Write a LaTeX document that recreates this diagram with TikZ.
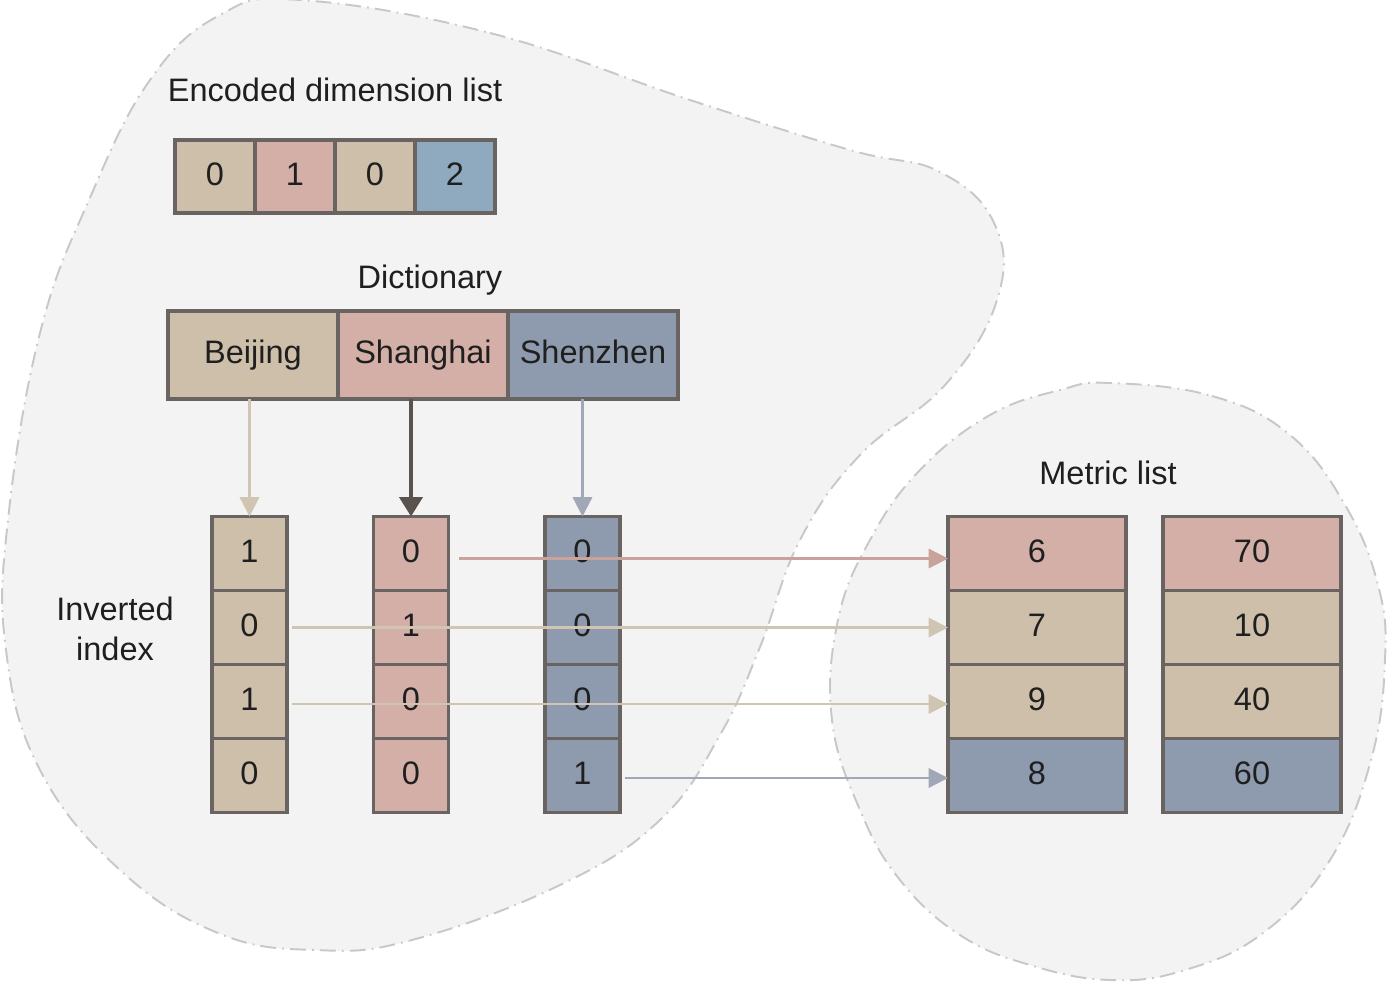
\documentclass[tikz,border=0pt]{standalone}
\usepackage{fontspec}
\setmainfont{Liberation Sans}
\usetikzlibrary{positioning,arrows.meta}

\definecolor{tanc}{HTML}{CEBFAB}
\definecolor{pinkc}{HTML}{D3AFA8}
\definecolor{slatec}{HTML}{8E9BAE}
\definecolor{bluec}{HTML}{8FAABF}
\definecolor{edgec}{HTML}{696461}
\definecolor{blobfill}{HTML}{F3F3F3}
\definecolor{blobline}{HTML}{C8C8C8}
\definecolor{tanline}{HTML}{CFC5B2}
\definecolor{pinkline}{HTML}{C9A29A}
\definecolor{slateline}{HTML}{A0A8B7}
\definecolor{darkline}{HTML}{5A524D}

\begin{document}
\begin{tikzpicture}[x=0.2mm,y=-0.2mm,node distance=0pt,
    every node/.style={font=\fontsize{18.5}{23}\selectfont,text=black!88},
    cell/.style={draw=edgec,line width=2pt,outer sep=0pt,inner sep=0pt,
      text height=13.5pt,text depth=3.5pt},
    enc/.style={cell,minimum width=16mm,minimum height=14.6mm},
    dict/.style={cell,minimum width=34mm,minimum height=17.6mm},
    inv/.style={cell,minimum width=15mm,minimum height=14.8mm},
    met/.style={cell,minimum width=35.6mm,minimum height=14.8mm},
    blob/.style={fill=blobfill,draw=blobline,line width=1.1pt,
      dash pattern=on 9pt off 3.5pt on 1pt off 3.5pt},
    link/.style={-{Triangle[length=11pt,width=11pt]},line width=1.3pt}]
  \useasboundingbox[fill=white] (0,0) rectangle (1387,994);

  % background shapes
  \draw[blob] plot[smooth cycle,tension=0.7] coordinates {
    (300,0) (490,33) (690,100) (850,150) (940,172) (995,225) (997,300)
    (945,385) (860,455) (800,540) (760,647) (720,735) (660,820) (560,885)
    (412,940) (315,950) (218,933) (120,870) (40,770) (6,650) (8,520)
    (40,333) (89,200) (150,80) (220,15)};
  \draw[blob] plot[smooth cycle,tension=0.7] coordinates {
    (1110,383) (1212,396) (1290,435) (1345,505) (1378,585) (1385,660)
    (1371,760) (1330,860) (1263,933) (1185,970) (1110,980) (1030,965)
    (960,935) (900,880) (860,810) (832,720) (838,620) (870,540) (920,470)
    (990,415) (1060,390)};

  % encoded dimension list
  \node (enctitle) at (335,90) {Encoded dimension list};
  \node[enc,fill=tanc] (e1) at (215,176.5) {0};
  \node[enc,fill=pinkc,right=of e1] (e2) {1};
  \node[enc,fill=tanc,right=of e2] (e3) {0};
  \node[enc,fill=bluec,right=of e3] (e4) {2};

  % dictionary
  \node (dicttitle) at (430,280) {Dictionary};
  \node[dict,fill=tanc] (bj) at (253,355) {Beijing};
  \node[dict,fill=pinkc,right=of bj] (sh) {Shanghai};
  \node[dict,fill=slatec,right=of sh] (sz) {Shenzhen};

  % inverted index
  \node[align=center] (invtitle) at (115,629) {Inverted\\index};
  \node[inv,fill=tanc] (bj1) at (249.5,553.5) {1};
  \node[inv,fill=tanc,below=of bj1] (bj2) {0};
  \node[inv,fill=tanc,below=of bj2] (bj3) {1};
  \node[inv,fill=tanc,below=of bj3] (bj4) {0};
  \node[inv,fill=pinkc] (sh1) at (411,553.5) {0};
  \node[inv,fill=pinkc,below=of sh1] (sh2) {1};
  \node[inv,fill=pinkc,below=of sh2] (sh3) {0};
  \node[inv,fill=pinkc,below=of sh3] (sh4) {0};
  \node[inv,fill=slatec] (sz1) at (582.5,553.5) {0};
  \node[inv,fill=slatec,below=of sz1] (sz2) {0};
  \node[inv,fill=slatec,below=of sz2] (sz3) {0};
  \node[inv,fill=slatec,below=of sz3] (sz4) {1};

  % metric list
  \node (mettitle) at (1108,473) {Metric list};
  \node[met,fill=pinkc] (m1) at (1037,553.5) {6};
  \node[met,fill=tanc,below=of m1] (m2) {7};
  \node[met,fill=tanc,below=of m2] (m3) {9};
  \node[met,fill=slatec,below=of m3] (m4) {8};
  \node[met,fill=pinkc] (v1) at (1252,553.5) {70};
  \node[met,fill=tanc,below=of v1] (v2) {10};
  \node[met,fill=tanc,below=of v2] (v3) {40};
  \node[met,fill=slatec,below=of v3] (v4) {60};

  % connectors
  \draw[link,color=tanline] (bj1 |- bj.south) -- (bj1.north);
  \draw[-{Triangle[length=11pt,width=13pt]},line width=2.2pt,color=darkline]
    (sh1 |- sh.south) -- (sh1.north);
  \draw[link,color=slateline] (sz1 |- sz.south) -- (sz1.north);
  \draw[link,color=pinkline] ([xshift=2mm,yshift=-1mm]sh1.east)
    -- ([yshift=-1mm]m1.west);
  \draw[link,color=tanline] ([xshift=1mm]bj2.east) -- (m2.west);
  \draw[link,color=tanline] ([xshift=1mm,yshift=-0.5mm]bj3.east)
    -- ([yshift=-0.5mm]m3.west);
  \draw[link,color=slateline] ([xshift=1mm,yshift=-0.5mm]sz4.east)
    -- ([yshift=-0.5mm]m4.west);
\end{tikzpicture}
\end{document}
